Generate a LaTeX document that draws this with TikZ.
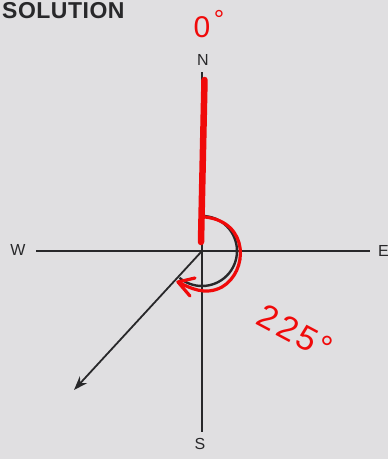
\documentclass[tikz,border=0pt]{standalone}
\usepackage{fontspec}
\setmainfont{Liberation Sans}
\usetikzlibrary{arrows.meta}
\definecolor{paper}{RGB}{224,223,225}
\definecolor{ink}{RGB}{40,40,42}
\definecolor{pen}{RGB}{240,10,10}
\tikzset{
  axis/.style={draw=ink, line width=1.8pt},
  dirlabel/.style={text=ink, font=\fontsize{16}{16}\selectfont, inner sep=0pt},
  redtext/.style={text=pen, font=\fontsize{30}{30}\selectfont, inner sep=0pt},
}
\begin{document}
\begin{tikzpicture}[x=1pt,y=-1pt]
\fill[paper] (0,0) rectangle (388,459);
\useasboundingbox (0,0) rectangle (388,459);
\node[anchor=base west, inner sep=0pt, text=ink, font=\fontsize{23}{23}\selectfont\bfseries] (title) at (2,18) {S\kern0.5ptO\kern0.5ptL\kern0.5ptU\kern0.5ptT\kern0.5ptI\kern0.5ptO\kern0.5ptN};
\coordinate (O) at (202,251);
\node[dirlabel] (N) at (203,60) {N};
\node[dirlabel] (S) at (200,444) {S};
\node[dirlabel] (W) at (18,250) {W};
\node[dirlabel, anchor=west] (E) at (378,251) {E};
\coordinate (nEnd) at (202,72);
\coordinate (sEnd) at (202,432);
\coordinate (wEnd) at (36,251);
\coordinate (eEnd) at (370,251);
\coordinate (swEnd) at (74,390);
\draw[axis] (nEnd) -- (sEnd);
\draw[axis] (wEnd) -- (eEnd);
\draw[axis, -{Stealth[length=14pt,width=10pt]}] (O) -- (swEnd);
\draw[draw=ink, line width=2.4pt] (202,216) arc[start angle=-90, end angle=130, radius=35];
% red annotations
\draw[pen, line width=6.5pt, line cap=round] (204.5,80) -- (201,242);
\coordinate (rs) at (205,217);
\coordinate (rt) at (178,282);
\draw[pen, line width=3.2pt, line cap=round] (rs) .. controls (250,222) and (248,272) .. (222,287) .. controls (205,296) and (190,288) .. (rt);
\draw[pen, line width=3.2pt, line cap=round, line join=round] (195,278) -- (rt) -- (190,296);
\node[redtext] (zero) at (202,27) {0};
\node[redtext, font=\fontsize{26}{26}\selectfont] (deg0) at (219,19) {°};
\node[redtext, rotate=-28, font=\fontsize{34}{34}\selectfont] (ang) at (295,332) {2\kern3pt2\kern3pt5\kern2pt°};
\end{tikzpicture}
\end{document}
